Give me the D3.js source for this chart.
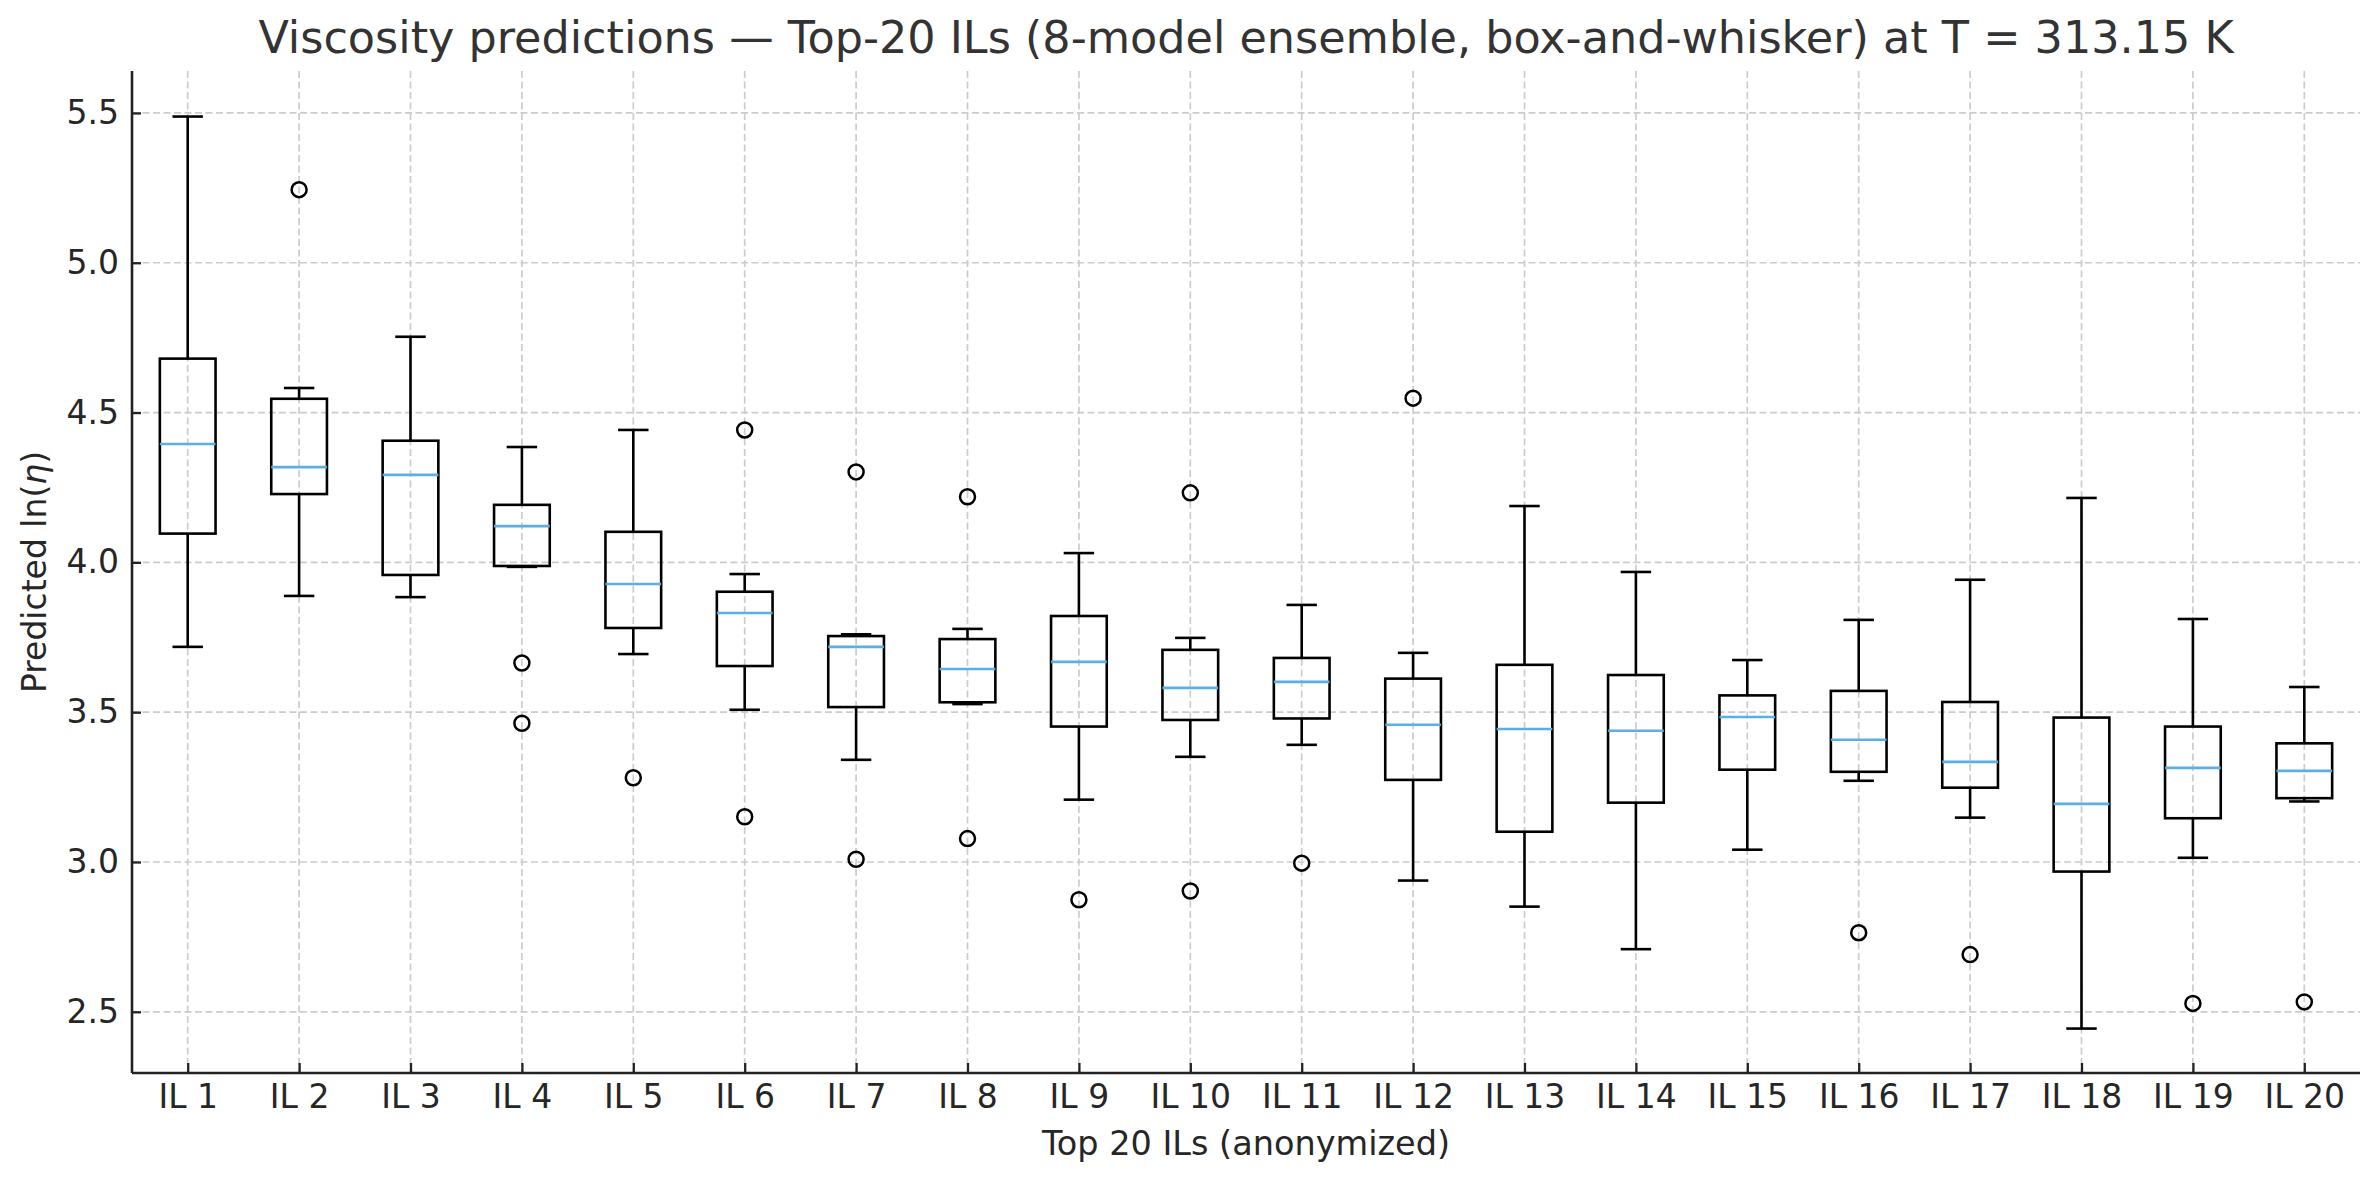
<!DOCTYPE html>
<html>
<head>
<meta charset="utf-8">
<script src="https://cdn.jsdelivr.net/npm/d3@7"></script>
<style>
    body { margin: 0; background: #ffffff; }
    svg { display: block; font-family: 'DejaVu Sans', sans-serif; }
</style>
</head>
<body>
<div id="chart"></div>
<script>
// Top-20 ILs, box stats
const ilLabels = ['IL 1', 'IL 2', 'IL 3', 'IL 4', 'IL 5', 'IL 6', 'IL 7', 'IL 8', 'IL 9', 'IL 10',
    'IL 11', 'IL 12', 'IL 13', 'IL 14', 'IL 15', 'IL 16', 'IL 17', 'IL 18', 'IL 19', 'IL 20'];

const whiskerLow = [3.718, 3.888, 3.884, 3.985, 3.694, 3.508, 3.341, 3.527, 3.208, 3.351,
    3.391, 2.938, 2.851, 2.709, 3.041, 3.271, 3.148, 2.444, 3.014, 3.202];
const q1 = [4.096, 4.228, 3.958, 3.988, 3.781, 3.654, 3.517, 3.533, 3.452, 3.474,
    3.479, 3.274, 3.101, 3.198, 3.308, 3.301, 3.248, 2.968, 3.146, 3.213];
const medians = [4.395, 4.318, 4.292, 4.121, 3.928, 3.831, 3.718, 3.644, 3.668, 3.581,
    3.601, 3.458, 3.444, 3.438, 3.484, 3.408, 3.334, 3.194, 3.314, 3.304];
const q3 = [4.680, 4.546, 4.406, 4.192, 4.102, 3.902, 3.754, 3.744, 3.821, 3.708,
    3.681, 3.612, 3.658, 3.624, 3.556, 3.571, 3.534, 3.482, 3.452, 3.396];
const whiskerHigh = [5.488, 4.582, 4.753, 4.385, 4.442, 3.961, 3.760, 3.778, 4.031, 3.748,
    3.858, 3.698, 4.188, 3.968, 3.674, 3.808, 3.942, 4.215, 3.811, 3.584];
const outliers = [[], [5.244], [], [3.664, 3.463], [3.281], [4.442, 3.151], [4.302, 3.009],
    [4.219, 3.078], [2.874], [4.232, 2.903], [2.996], [4.548], [], [], [], [2.764], [2.691],
    [], [2.528], [2.533]];

const yTicks = [2.5, 3.0, 3.5, 4.0, 4.5, 5.0, 5.5];

const width = 2379;
const height = 1180;
const margin = {top: 71, right: 19, bottom: 107, left: 132};
const innerW = width - margin.left - margin.right;
const innerH = height - margin.top - margin.bottom;

const medianColor = '#5aafe6';
const gridColor = '#cccccc';
const axisColor = '#222222';

const svg = d3.select('#chart').append('svg')
    .attr('width', width)
    .attr('height', height);

svg.append('rect')
    .attr('width', width)
    .attr('height', height)
    .attr('fill', '#ffffff');

const g = svg.append('g')
    .attr('transform', 'translate(' + margin.left + ',' + margin.top + ')');

// boxplot positions are 1..n like matplotlib, with half a slot either side
const x = d3.scaleLinear()
    .domain([0.5, ilLabels.length + 0.5])
    .range([0, innerW]);

const y = d3.scaleLinear()
    .domain([2.2957, 5.64])
    .range([innerH, 0]);

const positions = ilLabels.map((d, i) => i + 1);

// grid
g.append('g')
    .selectAll('line')
    .data(yTicks)
    .join('line')
    .attr('x1', 0)
    .attr('x2', innerW)
    .attr('y1', d => y(d))
    .attr('y2', d => y(d))
    .attr('stroke', gridColor)
    .attr('stroke-width', 1.7)
    .attr('stroke-dasharray', '7,3.5');

g.append('g')
    .selectAll('line')
    .data(positions)
    .join('line')
    .attr('x1', d => x(d))
    .attr('x2', d => x(d))
    .attr('y1', 0)
    .attr('y2', innerH)
    .attr('stroke', gridColor)
    .attr('stroke-width', 1.7)
    .attr('stroke-dasharray', '7,3.5');

// boxes
const boxW = x(1.25) - x(1);
const capW = x(1.125) - x(1);

const items = ilLabels.map((label, i) => ({
    pos: i + 1,
    lo: whiskerLow[i],
    q1: q1[i],
    med: medians[i],
    q3: q3[i],
    hi: whiskerHigh[i],
    fliers: outliers[i]
}));

const box = g.append('g')
    .selectAll('g')
    .data(items)
    .join('g')
    .attr('stroke', '#000000')
    .attr('stroke-width', 2.6)
    .attr('fill', 'none');

// whiskers
box.append('line')
    .attr('x1', d => x(d.pos)).attr('x2', d => x(d.pos))
    .attr('y1', d => y(d.q1)).attr('y2', d => y(d.lo));
box.append('line')
    .attr('x1', d => x(d.pos)).attr('x2', d => x(d.pos))
    .attr('y1', d => y(d.q3)).attr('y2', d => y(d.hi));

// caps
box.append('line')
    .attr('stroke-linecap', 'square')
    .attr('x1', d => x(d.pos) - capW).attr('x2', d => x(d.pos) + capW)
    .attr('y1', d => y(d.lo)).attr('y2', d => y(d.lo));
box.append('line')
    .attr('stroke-linecap', 'square')
    .attr('x1', d => x(d.pos) - capW).attr('x2', d => x(d.pos) + capW)
    .attr('y1', d => y(d.hi)).attr('y2', d => y(d.hi));

box.append('rect')
    .attr('x', d => x(d.pos) - boxW)
    .attr('width', 2 * boxW)
    .attr('y', d => y(d.q3))
    .attr('height', d => y(d.q1) - y(d.q3));

box.append('line')
    .attr('stroke', medianColor)
    .attr('x1', d => x(d.pos) - boxW).attr('x2', d => x(d.pos) + boxW)
    .attr('y1', d => y(d.med)).attr('y2', d => y(d.med));

box.selectAll('circle')
    .data(d => d.fliers.map(v => ({pos: d.pos, v: v})))
    .join('circle')
    .attr('cx', d => x(d.pos))
    .attr('cy', d => y(d.v))
    .attr('r', 7.5)
    .attr('stroke-width', 2.5);

// axes
const xAxis = d3.axisBottom(x)
    .tickValues(positions)
    .tickFormat((d, i) => ilLabels[i])
    .tickSize(-10)
    .tickPadding(12);

const yAxis = d3.axisLeft(y)
    .tickValues(yTicks)
    .tickFormat(d3.format('.1f'))
    .tickSize(-9)
    .tickPadding(13);

function styleAxis(sel) {
    sel.select('.domain')
        .attr('stroke', axisColor)
        .attr('stroke-width', 2.6);
    sel.selectAll('.tick line')
        .attr('stroke', axisColor)
        .attr('stroke-width', 2.3);
    sel.selectAll('.tick text')
        .attr('fill', '#262626')
        .style('font-size', '33px');
    sel.attr('font-family', null);
}

g.append('g')
    .attr('transform', 'translate(0,' + innerH + ')')
    .call(xAxis)
    .call(styleAxis)
    .call(s => s.select('.domain').attr('d', 'M0,0H' + innerW));

g.append('g')
    .call(yAxis)
    .call(styleAxis)
    .call(s => s.select('.domain').attr('d', 'M0,' + innerH + 'V0'));

// labels
svg.append('text')
    .attr('x', margin.left + innerW / 2)
    .attr('y', 53)
    .attr('text-anchor', 'middle')
    .attr('fill', '#333333')
    .style('font-size', '44.5px')
    .text('Viscosity predictions \u2014 Top-20 ILs (8-model ensemble, box-and-whisker) at T = 313.15 K');

svg.append('text')
    .attr('x', margin.left + innerW / 2)
    .attr('y', 1155)
    .attr('text-anchor', 'middle')
    .attr('fill', '#262626')
    .style('font-size', '33.5px')
    .text('Top 20 ILs (anonymized)');

const yLabel = svg.append('text')
    .attr('transform', 'translate(46,' + (margin.top + innerH / 2) + ') rotate(-90)')
    .attr('text-anchor', 'middle')
    .attr('fill', '#262626')
    .style('font-size', '33px');
yLabel.append('tspan').text('Predicted ln(');
yLabel.append('tspan').style('font-style', 'italic').text('\u03b7');
yLabel.append('tspan').text(')');
</script>
</body>
</html>
